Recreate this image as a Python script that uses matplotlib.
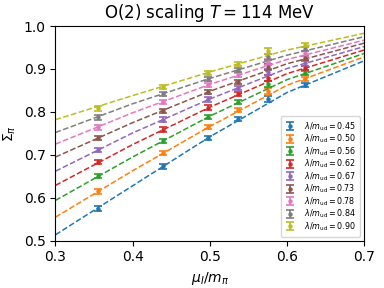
import numpy as np
import matplotlib
matplotlib.use("Agg")
import matplotlib.pyplot as plt

# lambda / m_ud values for each series
lams = [0.45, 0.50, 0.56, 0.62, 0.67, 0.73, 0.78, 0.84, 0.90]

# lattice data points
mu = [0.355, 0.439, 0.498, 0.537, 0.576, 0.624]
sigma = [
    [0.575, 0.673, 0.740, 0.783, 0.830, 0.862],
    [0.615, 0.704, 0.765, 0.804, 0.849, 0.876],
    [0.651, 0.732, 0.788, 0.823, 0.866, 0.890],
    [0.683, 0.759, 0.810, 0.841, 0.880, 0.903],
    [0.712, 0.782, 0.829, 0.856, 0.893, 0.913],
    [0.740, 0.802, 0.847, 0.870, 0.905, 0.925],
    [0.764, 0.823, 0.862, 0.886, 0.917, 0.936],
    [0.787, 0.841, 0.876, 0.897, 0.928, 0.946],
    [0.808, 0.858, 0.891, 0.911, 0.942, 0.956],
]
err = [0.005, 0.005, 0.005, 0.005, 0.007, 0.005]

# scaling fit curves
mu_fit = [0.3, 0.4, 0.5, 0.6, 0.7]
sigma_fit = [
    [0.514, 0.628, 0.742, 0.845, 0.919],
    [0.555, 0.663, 0.766, 0.862, 0.928],
    [0.594, 0.695, 0.790, 0.875, 0.936],
    [0.629, 0.724, 0.811, 0.889, 0.944],
    [0.662, 0.751, 0.830, 0.901, 0.952],
    [0.695, 0.775, 0.848, 0.912, 0.960],
    [0.725, 0.798, 0.864, 0.922, 0.967],
    [0.752, 0.819, 0.878, 0.932, 0.975],
    [0.782, 0.838, 0.893, 0.944, 0.983],
]

fig = plt.figure(figsize=(3.84, 2.88), dpi=100)
ax = fig.add_axes([0.1445, 0.164, 0.8035, 0.7457])

colors = plt.rcParams['axes.prop_cycle'].by_key()['color']
for i, lam in enumerate(lams):
    c = colors[i % len(colors)]
    ax.errorbar(mu, sigma[i], yerr=err, fmt='o', ms=2.2, capsize=3,
                color=c, elinewidth=1.2, capthick=1.2,
                label=r'$\lambda/m_{\rm ud}=%.2f$' % lam)
    ax.plot(mu_fit, sigma_fit[i], '--', color=c, lw=1.1)

ax.set_xlim(0.3, 0.7)
ax.set_ylim(0.5, 1.0)
ax.set_xlabel(r'$\mu_I/m_\pi$')
ax.set_ylabel(r'$\Sigma_\pi$')
ax.set_title(r'O(2) scaling $T = 114$ MeV')
ax.legend(loc='lower right', fontsize=5.8, labelspacing=0.0,
          handlelength=1.3, handletextpad=1.1, borderpad=0.5)

fig.savefig('out.png', dpi=100)
